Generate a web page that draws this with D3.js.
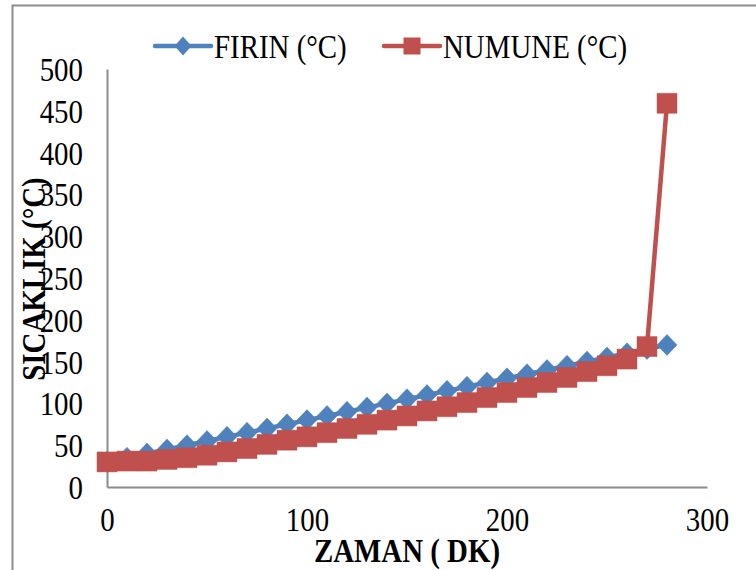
<!DOCTYPE html>
<html><head><meta charset="utf-8">
<script src="https://cdn.jsdelivr.net/npm/d3@7"></script>
<style>html,body{margin:0;padding:0;background:#fff;} svg{display:block;}</style>
</head><body>
<svg id="c" width="756" height="570"></svg>
<script>
const time = [0,10,20,30,40,50,60,70,80,90,100,110,120,130,140,150,160,170,180,190,200,210,220,230,240,250,260,270,280];
const firin = [30,35,40,45,50,55,60,65,70,75,80,85,90,95,100,105,110,115,120,125,130,135,140,145,150,155,160,165,170];
const numune = [30,31,31,33,35,38,42,46,51,56,60,65,70,75,80,85,91,96,101,107,113,119,125,131,138,145,153,168,459];
const seriesNames = ["FIRIN (°C)", "NUMUNE (°C)"];
const xTicks = [0,100,200,300];
const yTicks = [0,50,100,150,200,250,300,350,400,450,500];
const xTitle = "ZAMAN ( DK)";
const yTitle = "SICAKLIK (°C)";

const blue = "#4F81BD", red = "#C0504D";
const svg = d3.select("#c");
const font = "'Liberation Serif','Times New Roman',serif";
const FS = 34, SX = 0.85; // tall, narrow serif text like the reference

// chart frame
svg.append("path").attr("d","M12.5,570 L12.5,5.5 L756,5.5").attr("fill","none").attr("stroke","#8c8c8c").attr("stroke-width",2);

const x = d3.scaleLinear().domain([0,300]).range([107,707]);
const y = d3.scaleLinear().domain([0,500]).range([487,69]);

// axes
const xa = svg.append("g").attr("transform","translate(0,487)")
  .call(d3.axisBottom(x).tickValues(xTicks).tickSize(0).tickPadding(0).tickFormat(d3.format("d")));
const ya = svg.append("g").attr("transform","translate(107,0)")
  .call(d3.axisLeft(y).tickValues(yTicks).tickSize(0).tickPadding(0).tickFormat(d3.format("d")));
[xa,ya].forEach(g=>{
  g.select(".domain").attr("stroke","#8c8c8c").attr("stroke-width",2);
  g.selectAll("text").attr("font-family",font).attr("font-size",FS).attr("fill","#000")
    .attr("transform",`scale(${SX},1)`);
});
xa.selectAll("text").attr("x",0).attr("y",44).attr("dy",0);
ya.selectAll("text").attr("x",-24/SX).attr("dy","0.34em");

// titles
svg.append("text").attr("transform",`translate(407,562) scale(${SX},1)`).attr("text-anchor","middle")
  .attr("font-family",font).attr("font-weight","bold").attr("font-size",FS).text(xTitle);
svg.append("text").attr("transform",`translate(45,279) rotate(-90) scale(${SX},1)`).attr("text-anchor","middle")
  .attr("font-family",font).attr("font-weight","bold").attr("font-size",FS).text(yTitle);

const line = d3.line().x((d,i)=>x(time[i])).y(d=>y(d));

function drawSeries(vals,color,shape){
  const g = svg.append("g");
  g.append("path").datum(vals).attr("d",line).attr("fill","none").attr("stroke",color).attr("stroke-width",4.5).attr("stroke-linejoin","round");
  g.selectAll("path.m").data(vals).join("path").attr("class","m")
    .attr("transform",(d,i)=>`translate(${x(time[i])},${y(d)})`)
    .attr("d", shape==="diamond" ? "M0,-10.5 L10,0 L0,10.5 L-10,0 Z" : "M-10,-10 L10,-10 L10,10 L-10,10 Z")
    .attr("fill",color).attr("stroke",color).attr("stroke-width",0.8).attr("stroke-opacity",0.6);
}
drawSeries(firin,blue,"diamond");
drawSeries(numune,red,"square");

// legend
const leg = [{name:seriesNames[0],color:blue,shape:"diamond",x0:155},{name:seriesNames[1],color:red,shape:"square",x0:384}];
leg.forEach(l=>{
  const g = svg.append("g");
  g.append("line").attr("x1",l.x0).attr("x2",l.x0+56).attr("y1",46).attr("y2",46).attr("stroke",l.color).attr("stroke-width",4.5).attr("stroke-linecap","round");
  g.append("path").attr("transform",`translate(${l.x0+28},46)`)
    .attr("d", l.shape==="diamond" ? "M0,-9.5 L8.5,0 L0,9.5 L-8.5,0 Z" : "M-8.5,-8.5 L8.5,-8.5 L8.5,8.5 L-8.5,8.5 Z")
    .attr("fill",l.color);
  g.append("text").attr("transform",`translate(${l.x0+59},58) scale(${SX},1)`).attr("font-family",font).attr("font-size",FS).text(l.name);
});
</script>
</body></html>
